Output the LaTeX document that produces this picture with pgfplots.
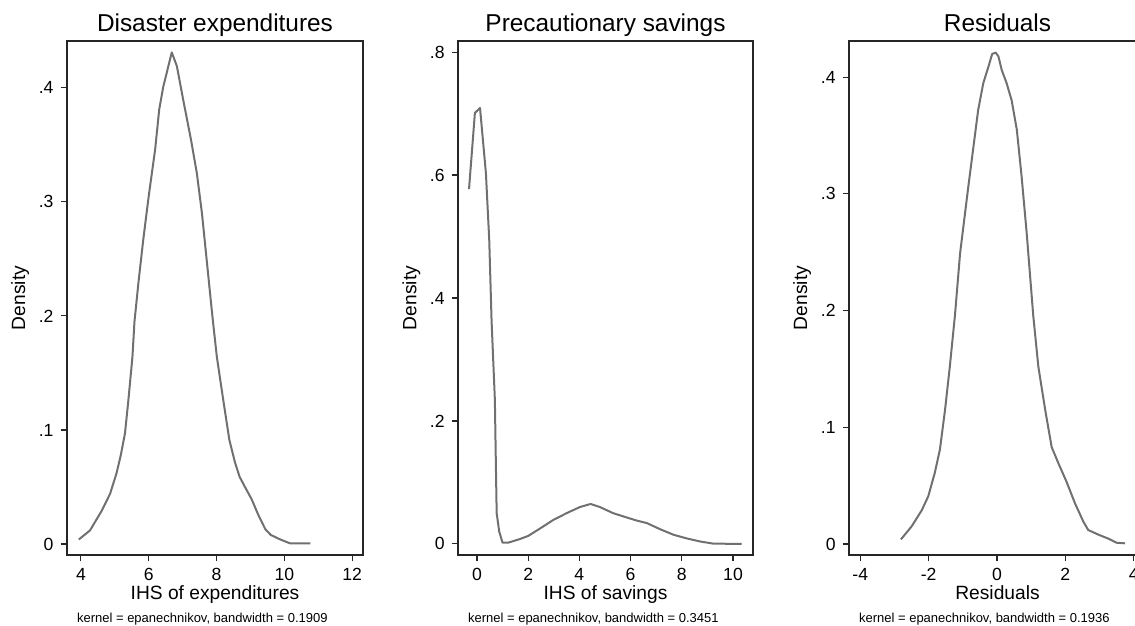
\documentclass[border=0pt]{standalone}
\usepackage{fontspec}
\setmainfont{Liberation Sans}
\usepackage{pgfplots}
\pgfplotsset{compat=1.18}

\definecolor{kdgray}{RGB}{112,112,112}

\pgfplotsset{
  kd/.style={
    scale only axis, width=148pt, height=257pt, anchor=south west,
    axis line style={line width=0.75pt, black!85},
    tick align=outside, xtick pos=bottom, ytick pos=left,
    major tick length=3.2pt,
    tick style={line width=0.55pt, black!85},
    tick label style={font=\fontsize{8.8}{10}\selectfont},
    /pgf/number format/assume math mode=true,
    label style={font=\fontsize{9.6}{11}\selectfont},
    every axis title shift=0pt,
    title style={font=\fontsize{12.2}{14}\selectfont, at={(0.5,1)}, anchor=base, yshift=4.5pt},
    xlabel style={at={(axis description cs:0.5,0)}, anchor=base, yshift=-22.5pt},
    ylabel style={at={(axis description cs:-0.158,0.5)}, anchor=center},
    ylabel={Density},
  },
  kdline/.style={draw=kdgray, line width=1.0pt, no marks, line join=round},
}

\begin{document}
\begin{tikzpicture}

% disaster expenditures
\begin{axis}[kd, name=ax1, at={(33.5pt,35.5pt)},
  title={Disaster expenditures}, xlabel={IHS of expenditures},
  xmin=3.59, xmax=12.32, ymin=-0.0096, ymax=0.441,
  xtick={4,6,8,10,12}, ytick={0,0.1,0.2,0.3,0.4},
  yticklabels={0,.1,.2,.3,.4}]
\addplot[kdline] coordinates {
  (3.94,0.004) (4.27,0.012) (4.61,0.029) (4.86,0.044) (5.05,0.062)
  (5.17,0.077) (5.30,0.097) (5.40,0.126) (5.52,0.164) (5.58,0.195)
  (5.70,0.230) (5.84,0.267) (6.00,0.305) (6.19,0.346) (6.31,0.381)
  (6.43,0.401) (6.58,0.419) (6.68,0.431) (6.83,0.419) (7.02,0.389)
  (7.25,0.354) (7.42,0.325) (7.57,0.290) (7.71,0.249) (7.86,0.205)
  (7.91,0.191) (8.01,0.164) (8.20,0.126) (8.38,0.091) (8.55,0.071)
  (8.68,0.059) (8.84,0.050) (9.04,0.039) (9.24,0.025) (9.44,0.013)
  (9.60,0.008) (9.88,0.004) (10.17,0.0006) (10.77,0.0006)
};
\end{axis}
\node[anchor=base west, font=\fontsize{6.5}{8}\selectfont]
  at ([xshift=1.5pt, yshift=-34pt]ax1.south west)
  {kernel = epanechnikov, bandwidth = 0.1909};

% precautionary savings
\begin{axis}[kd, name=ax2, at={(229pt,35.5pt)}, width=147.5pt,
  title={Precautionary savings}, xlabel={IHS of savings},
  xmin=-0.74, xmax=10.78, ymin=-0.018, ymax=0.818,
  xtick={0,2,4,6,8,10}, ytick={0,0.2,0.4,0.6,0.8},
  yticklabels={0,.2,.4,.6,.8}]
\addplot[kdline] coordinates {
  (-0.31,0.577) (-0.08,0.701) (0.12,0.709) (0.35,0.603) (0.48,0.494)
  (0.57,0.364) (0.70,0.234) (0.74,0.126) (0.77,0.050) (0.87,0.020)
  (1.00,0.002) (1.22,0.002) (1.68,0.008) (2.00,0.013) (2.46,0.025)
  (2.98,0.039) (3.50,0.050) (4.02,0.060) (4.44,0.065) (4.80,0.060)
  (5.32,0.050) (5.85,0.043) (6.24,0.038) (6.63,0.034) (7.15,0.024)
  (7.67,0.015) (8.19,0.009) (8.71,0.004) (9.23,0.0005) (10.34,0.0)
};
\end{axis}
\node[anchor=base west, font=\fontsize{6.5}{8}\selectfont]
  at ([xshift=1.5pt, yshift=-34pt]ax2.south west)
  {kernel = epanechnikov, bandwidth = 0.3451};

% residuals
\begin{axis}[kd, name=ax3, at={(424.5pt,35.5pt)}, width=148.5pt,
  title={Residuals}, xlabel={Residuals},
  xmin=-4.33, xmax=4.36, ymin=-0.0094, ymax=0.431,
  xtick={-4,-2,0,2,4}, ytick={0,0.1,0.2,0.3,0.4},
  yticklabels={0,.1,.2,.3,.4}]
\addplot[kdline] coordinates {
  (-2.81,0.004) (-2.50,0.015) (-2.20,0.029) (-2.01,0.041) (-1.82,0.061)
  (-1.67,0.081) (-1.52,0.115) (-1.38,0.152) (-1.23,0.196) (-1.08,0.249)
  (-0.84,0.306) (-0.55,0.372) (-0.40,0.395) (-0.25,0.409) (-0.14,0.420)
  (-0.04,0.421) (0.04,0.418) (0.14,0.406) (0.28,0.395) (0.43,0.380)
  (0.58,0.355) (0.72,0.315) (0.87,0.266) (1.06,0.196) (1.21,0.152)
  (1.41,0.115) (1.60,0.083) (1.80,0.069) (2.04,0.053) (2.28,0.035)
  (2.53,0.019) (2.67,0.012) (2.97,0.008) (3.26,0.0046) (3.50,0.0011)
  (3.75,0.0006)
};
\end{axis}
\node[anchor=base west, font=\fontsize{6.5}{8}\selectfont]
  at ([xshift=1.5pt, yshift=-34pt]ax3.south west)
  {kernel = epanechnikov, bandwidth = 0.1936};

% the reference is cut off at the right edge
\pgfresetboundingbox
\useasboundingbox (0,0) rectangle (567.5pt,313pt);
\end{tikzpicture}
\end{document}
